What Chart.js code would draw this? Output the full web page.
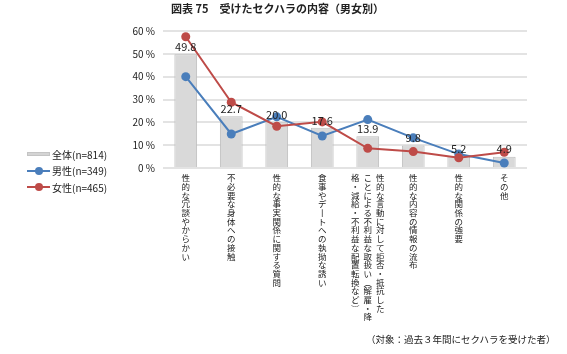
<!DOCTYPE html>
<html>
<head>
<meta charset="utf-8">
<script src="https://cdn.jsdelivr.net/npm/chart.js@4"></script>
<style>
  html, body { margin: 0; padding: 0; background: #fff; }
  #wrap { position: relative; width: 567px; height: 354px; font-family: "Noto Sans CJK JP", sans-serif; color: #222; }
  #chart { position: absolute; left: 0; top: 0; }
  .title { position: absolute; left: 171px; top: 0px; font-size: 11px; font-weight: bold; white-space: nowrap; }
  .note { position: absolute; left: 366px; top: 332px; font-size: 9.5px; white-space: nowrap; }
  .legend { position: absolute; left: 27px; top: 146px; font-size: 10px; }
  .legend div { height: 16.5px; display: flex; align-items: center; white-space: nowrap; }
  .swatch { position: relative; width: 23px; height: 10px; margin-right: 2px; }
  .swatch .ln { position: absolute; left: 0; right: 0; top: 4px; height: 2px; }
  .swatch .dot { position: absolute; left: 8px; top: 1px; width: 8px; height: 8px; border-radius: 50%; }
</style>
</head>
<body>
<div id="wrap">
  <canvas id="chart" width="567" height="354"></canvas>
  <div class="title">図表 75　受けたセクハラの内容（男女別）</div>
  <div class="legend">
    <div><span class="swatch"><span class="ln" style="top:3px;height:4px;background:#d4d4d4;border:1px solid #c4c4c4;box-sizing:border-box"></span></span>全体(n=814)</div>
    <div><span class="swatch"><span class="ln" style="background:#4a7ebb"></span><span class="dot" style="background:#4a7ebb"></span></span>男性(n=349)</div>
    <div><span class="swatch"><span class="ln" style="background:#be4b48"></span><span class="dot" style="background:#be4b48"></span></span>女性(n=465)</div>
  </div>
  <div class="note">（対象：過去３年間にセクハラを受けた者）</div>
</div>
<script>
// categories (each entry: columns of vertical text, right to left)
const categories = [
    ['性的な冗談やからかい'],
    ['不必要な身体への接触'],
    ['性的な事実関係に関する質問'],
    ['食事やデートへの執拗な誘い'],
    ['性的な言動に対して拒否・抵抗した', 'ことによる不利益な取扱い（解雇・降', '格・減給・不利益な配置転換など）'],
    ['性的な内容の情報の流布'],
    ['性的な関係の強要'],
    ['その他']
];
const totalValues = [49.8, 22.7, 20.0, 17.6, 13.9, 9.8, 5.2, 4.9];
const maleValues = [40.0, 14.9, 22.4, 14.0, 21.2, 13.2, 6.1, 2.2];
const femaleValues = [57.5, 28.8, 18.3, 20.2, 8.6, 7.2, 4.5, 6.9];
const yTicks = [0, 10, 20, 30, 40, 50, 60];

const FONT = '"Noto Sans CJK JP", sans-serif';
const verticalForms = { 'ー': '丨', '（': '︵', '）': '︶' };

const valueLabels = {
    id: 'valueLabels',
    afterDatasetsDraw(chart) {
        const ctx = chart.ctx;
        const meta = chart.getDatasetMeta(0);
        ctx.save();
        ctx.font = '11px ' + FONT;
        ctx.fillStyle = '#222';
        ctx.textAlign = 'center';
        ctx.textBaseline = 'bottom';
        meta.data.forEach((bar, i) => {
            ctx.fillText(totalValues[i].toFixed(1), bar.x, bar.y - 2);
        });
        ctx.restore();
    }
};

const verticalLabels = {
    id: 'verticalLabels',
    afterDraw(chart) {
        const ctx = chart.ctx;
        const xs = chart.scales.x;
        const top = chart.chartArea.bottom + 10;
        ctx.save();
        ctx.font = '8.5px ' + FONT;
        ctx.fillStyle = '#222';
        ctx.textAlign = 'center';
        ctx.textBaseline = 'middle';
        categories.forEach((cols, i) => {
            const cx = xs.getPixelForValue(i);
            const n = cols.length;
            cols.forEach((col, c) => {
                const x = cx + ((n - 1) / 2 - c) * 12.5;
                Array.from(col).forEach((ch, k) => {
                    ctx.fillText(verticalForms[ch] || ch, x, top + k * 8.7);
                });
            });
        });
        ctx.restore();
    }
};

new Chart(document.getElementById('chart'), {
    data: {
        labels: categories.map(c => c.join('')),
        datasets: [
            {
                type: 'bar',
                label: '全体(n=814)',
                data: totalValues,
                backgroundColor: '#d9d9d9',
                borderColor: '#bdbdbd',
                borderWidth: 1,
                barPercentage: 0.5,
                categoryPercentage: 1,
                order: 3
            },
            {
                type: 'line',
                label: '男性(n=349)',
                data: maleValues,
                borderColor: '#4a7ebb',
                backgroundColor: '#4a7ebb',
                borderWidth: 2,
                pointRadius: 4.5,
                pointBorderWidth: 0,
                order: 2
            },
            {
                type: 'line',
                label: '女性(n=465)',
                data: femaleValues,
                borderColor: '#be4b48',
                backgroundColor: '#be4b48',
                borderWidth: 2,
                pointRadius: 4.5,
                pointBorderWidth: 0,
                order: 1
            }
        ]
    },
    options: {
        responsive: false,
        animation: false,
        layout: { padding: { left: 115, right: 40, top: 31, bottom: 186 } },
        plugins: { legend: { display: false }, tooltip: { enabled: false } },
        scales: {
            x: {
                afterFit(scale) { scale.height = 0; },
                grid: { display: false },
                border: { display: false },
                ticks: { display: false }
            },
            y: {
                min: 0,
                max: 60,
                afterFit(scale) { scale.width = 48; },
                afterBuildTicks(scale) { scale.ticks = yTicks.map(v => ({ value: v })); },
                grid: { color: '#e3e3e3', lineWidth: 2, drawTicks: false },
                border: { display: false },
                ticks: {
                    padding: 8,
                    color: '#222',
                    font: { family: FONT, size: 10 },
                    callback: v => v + ' %'
                }
            }
        }
    },
    plugins: [valueLabels, verticalLabels]
});
</script>
</body>
</html>
